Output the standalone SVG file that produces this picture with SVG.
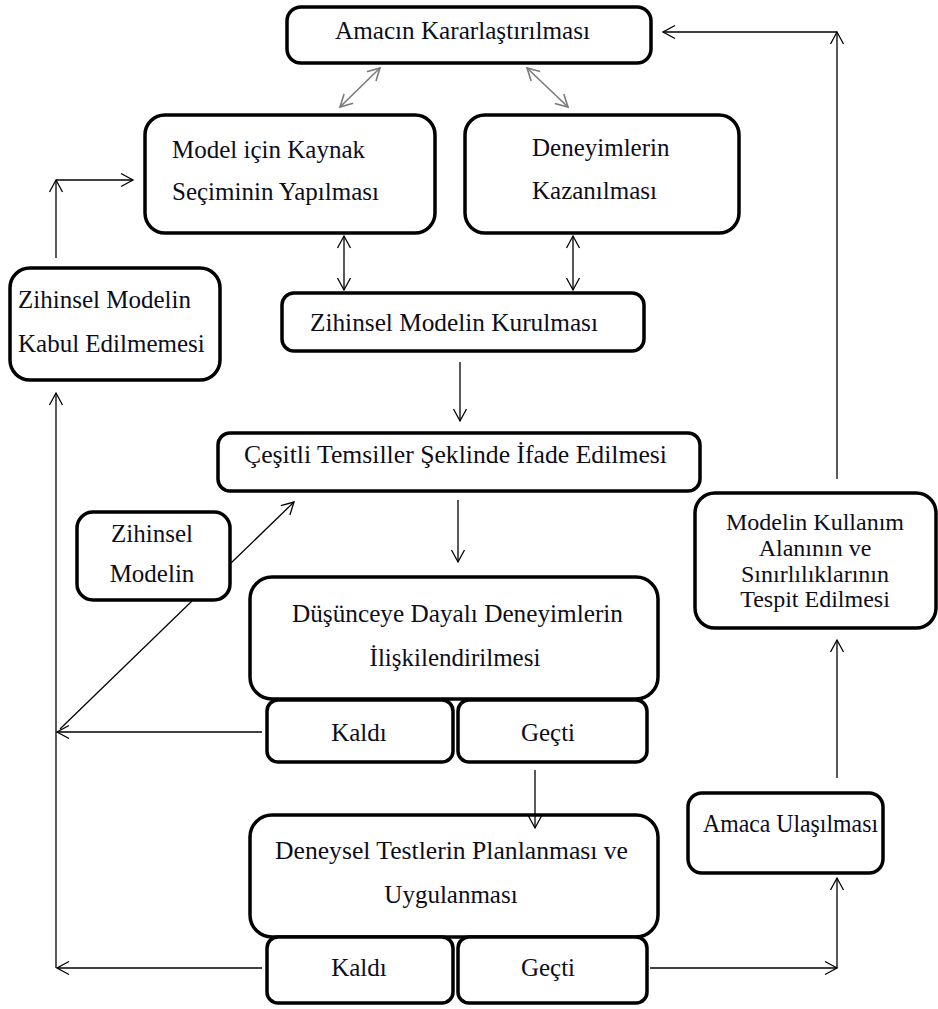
<svg xmlns="http://www.w3.org/2000/svg" width="938" height="1009" viewBox="0 0 938 1009" font-family="'Liberation Serif', 'Times New Roman', serif">
  <style>
    .box { fill: #ffffff; stroke: #000000; stroke-width: 3.5; }
    .lbl { font-family: "Liberation Serif", "Times New Roman", serif; font-size: 25px; fill: #0d0d1a; }
    .mid { text-anchor: middle; }
    .con { fill: none; stroke: #000000; stroke-width: 1.3; }
    .gray { fill: none; stroke: #7a7a7a; stroke-width: 1.6; }
  </style>
  <defs>
    <marker id="arr" markerUnits="userSpaceOnUse" markerWidth="16" markerHeight="16" viewBox="0 0 16 16" refX="14" refY="8" orient="auto-start-reverse">
      <path d="M2,1.5 L14,8 L2,14.5" fill="none" stroke="#000000" stroke-width="1.3"/>
    </marker>
    <marker id="arrg" markerUnits="userSpaceOnUse" markerWidth="16" markerHeight="16" viewBox="0 0 16 16" refX="14" refY="8" orient="auto-start-reverse">
      <path d="M2,1.5 L14,8 L2,14.5" fill="none" stroke="#7a7a7a" stroke-width="1.6"/>
    </marker>
  </defs>
  <rect width="938" height="1009" fill="#ffffff"/>

  <g id="amac">
    <rect class="box" x="287" y="7" width="364" height="56" rx="14"/>
    <text class="lbl" x="335" y="39" textLength="255" lengthAdjust="spacingAndGlyphs">Amacın Kararlaştırılması</text>
  </g>

  <g id="kaynak">
    <rect class="box" x="145" y="115" width="290" height="118" rx="20"/>
    <text class="lbl" x="172" y="158">Model için Kaynak</text>
    <text class="lbl" x="172" y="200">Seçiminin  Yapılması</text>
  </g>

  <g id="deneyim">
    <rect class="box" x="465" y="115" width="274" height="118" rx="20"/>
    <text class="lbl" x="532" y="156">Deneyimlerin</text>
    <text class="lbl" x="532" y="199">Kazanılması</text>
  </g>

  <g id="kurulma">
    <rect class="box" x="282" y="293" width="362" height="58" rx="12"/>
    <text class="lbl" x="310" y="331" textLength="288" lengthAdjust="spacingAndGlyphs">Zihinsel Modelin Kurulması</text>
  </g>

  <g id="kabul">
    <rect class="box" x="10" y="268" width="210" height="112" rx="20"/>
    <text class="lbl" x="18" y="308">Zihinsel Modelin</text>
    <text class="lbl" x="18" y="352">Kabul Edilmemesi</text>
  </g>

  <g id="temsil">
    <rect class="box" x="218" y="433" width="482" height="58" rx="12"/>
    <text class="lbl" x="244" y="463" textLength="423" lengthAdjust="spacingAndGlyphs">Çeşitli Temsiller  Şeklinde İfade Edilmesi</text>
  </g>

  <g id="zihinsel">
    <rect class="box" x="77" y="512" width="153" height="88" rx="16"/>
    <text class="lbl mid" x="152" y="542">Zihinsel</text>
    <text class="lbl mid" x="152" y="582">Modelin</text>
  </g>

  <g id="dusunce">
    <rect class="box" x="250" y="577" width="408" height="122" rx="22"/>
    <text class="lbl" x="292" y="622" textLength="331" lengthAdjust="spacingAndGlyphs">Düşünceye Dayalı Deneyimlerin</text>
    <text class="lbl mid" x="455" y="666">İlişkilendirilmesi</text>
  </g>

  <g id="kaldi1">
    <rect class="box" x="267" y="700" width="186" height="62" rx="11"/>
    <text class="lbl mid" x="359" y="741">Kaldı</text>
  </g>

  <g id="gecti1">
    <rect class="box" x="458" y="700" width="189" height="62" rx="11"/>
    <text class="lbl mid" x="548" y="741">Geçti</text>
  </g>

  <g id="deneysel">
    <rect class="box" x="250" y="815" width="408" height="122" rx="22"/>
    <text class="lbl" x="275" y="859" textLength="353" lengthAdjust="spacingAndGlyphs">Deneysel Testlerin Planlanması  ve</text>
    <text class="lbl mid" x="451" y="903">Uygulanması</text>
  </g>

  <g id="kaldi2">
    <rect class="box" x="267" y="937" width="186" height="66" rx="11"/>
    <text class="lbl mid" x="359" y="976">Kaldı</text>
  </g>

  <g id="gecti2">
    <rect class="box" x="458" y="937" width="189" height="66" rx="11"/>
    <text class="lbl mid" x="548" y="976">Geçti</text>
  </g>

  <g id="ulasma">
    <rect class="box" x="688" y="793" width="195" height="80" rx="14"/>
    <text class="lbl" x="703" y="832" textLength="175" lengthAdjust="spacingAndGlyphs">Amaca Ulaşılması</text>
  </g>

  <g id="kullanim">
    <rect class="box" x="695" y="493" width="241" height="135" rx="20"/>
    <text class="lbl mid" x="815" y="530" style="font-size:24px">Modelin Kullanım</text>
    <text class="lbl mid" x="815" y="556" style="font-size:24px">Alanının ve</text>
    <text class="lbl mid" x="815" y="582" style="font-size:24px">Sınırlılıklarının</text>
    <text class="lbl mid" x="815" y="607" style="font-size:24px">Tespit Edilmesi</text>
  </g>

  <g id="connectors">
    <!-- goal <-> source selection / experiences -->
    <line class="gray" x1="380" y1="68" x2="340" y2="107" marker-start="url(#arrg)" marker-end="url(#arrg)"/>
    <line class="gray" x1="527" y1="68" x2="568" y2="107" marker-start="url(#arrg)" marker-end="url(#arrg)"/>
    <!-- upper boxes <-> model construction -->
    <line class="con" x1="344" y1="236" x2="344" y2="290" marker-start="url(#arr)" marker-end="url(#arr)"/>
    <line class="con" x1="573" y1="236" x2="573" y2="290" marker-start="url(#arr)" marker-end="url(#arr)"/>
    <!-- main downward flow -->
    <line class="con" x1="460" y1="362" x2="460" y2="421" marker-end="url(#arr)"/>
    <line class="con" x1="458" y1="500" x2="458" y2="562" marker-end="url(#arr)"/>
    <line class="con" x1="535" y1="770" x2="535" y2="828" marker-end="url(#arr)"/>
    <!-- rejection loop on the left -->
    <line class="con" x1="262" y1="732" x2="57" y2="732" marker-end="url(#arr)"/>
    <line class="con" x1="262" y1="968" x2="57" y2="968" marker-end="url(#arr)"/>
    <line class="con" x1="56" y1="968" x2="56" y2="393" marker-end="url(#arr)"/>
    <!-- diagonal runs behind the small "Zihinsel Modelin" box -->
    <line class="con" x1="60" y1="729" x2="192" y2="601"/>
    <line class="con" x1="231" y1="563" x2="294" y2="502" marker-end="url(#arr)"/>
    <line class="con" x1="56" y1="258" x2="56" y2="180" marker-end="url(#arr)"/>
    <line class="con" x1="56" y1="180" x2="133" y2="180" marker-end="url(#arr)"/>
    <!-- success path on the right -->
    <line class="con" x1="650" y1="968" x2="837" y2="968" marker-end="url(#arr)"/>
    <line class="con" x1="837" y1="968" x2="837" y2="878" marker-end="url(#arr)"/>
    <line class="con" x1="837" y1="778" x2="837" y2="640" marker-end="url(#arr)"/>
    <line class="con" x1="837" y1="479" x2="837" y2="32" marker-end="url(#arr)"/>
    <line class="con" x1="837" y1="32" x2="663" y2="32" marker-end="url(#arr)"/>
  </g>
</svg>
